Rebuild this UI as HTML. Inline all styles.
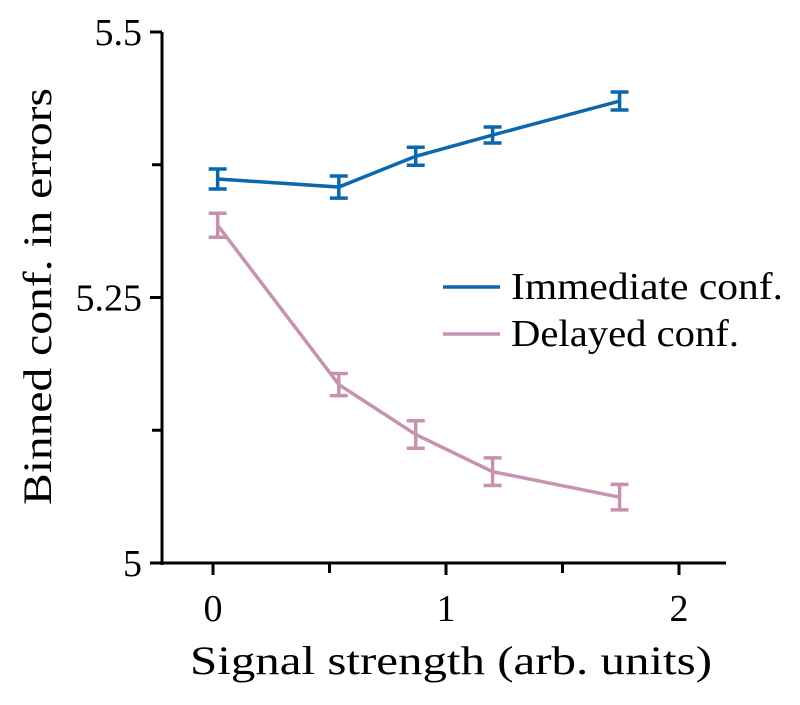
<!DOCTYPE html>
<html><head><meta charset="utf-8"><style>
body{margin:0;background:#fff}
svg text{font-family:"Liberation Serif",serif;fill:#000}
</style></head><body>
<svg id="chart" width="800" height="700" xmlns="http://www.w3.org/2000/svg"></svg>
<script>
const xTicks=[0,1,2];
const xMinorTicks=[0.5,1.5];
const yTicks=[5,5.25,5.5];
const yTickLabels=["5","5.25","5.5"];
const yMinorTicks=[5.125,5.375];
const xVals=[0.02,0.54,0.87,1.2,1.745];
const immediateVals=[5.3616,5.354,5.383,5.403,5.435];
const immediateErr=[0.0094,0.0104,0.0085,0.0075,0.0085];
const delayedVals=[5.318,5.168,5.121,5.086,5.062];
const delayedErr=[0.0113,0.0104,0.013,0.013,0.012];
const svg=document.getElementById('chart');
const NS='http://www.w3.org/2000/svg';
const X=v=>213+v*233;
const Y=v=>563-(v-5)*1062;
function mk(tag,attrs,parent){const e=document.createElementNS(NS,tag);for(const k in attrs)e.setAttribute(k,attrs[k]);(parent||svg).appendChild(e);return e;}
let a=mk('line',{x1:162,y1:32,x2:162,y2:565,stroke:'#000','stroke-width':3});


a=mk('line',{x1:160,y1:563,x2:726,y2:563,stroke:'#000','stroke-width':3});


xTicks.forEach(v=>{const t=mk('line',{x1:X(v),x2:X(v),y1:563,y2:575,stroke:'#000','stroke-width':3});


const l=mk('text',{x:X(v),y:621,'font-size':38,'text-anchor':'middle'});l.textContent=v;

});
xMinorTicks.forEach(v=>{const t=mk('line',{x1:X(v),x2:X(v),y1:563,y2:573,stroke:'#000','stroke-width':3});

});
yTicks.forEach((v,i)=>{const t=mk('line',{x1:150,x2:162,y1:Y(v),y2:Y(v),stroke:'#000','stroke-width':3});


const l=mk('text',{x:142,y:Y(v)+13,'font-size':38,'text-anchor':'end'});l.textContent=yTickLabels[i];

});
yMinorTicks.forEach(v=>{const t=mk('line',{x1:152,x2:162,y1:Y(v),y2:Y(v),stroke:'#000','stroke-width':3});

});
function series(vals,errs,color,name){
  const g=mk('g',{});
  
  
  const p=mk('polyline',{points:vals.map((v,i)=>X(xVals[i])+','+Y(v)).join(' '),fill:'none',stroke:color,'stroke-width':3.5},g);
  
  
  vals.forEach((v,i)=>{const x=X(xVals[i]),y1=Y(v+errs[i]),y2=Y(v-errs[i]);
    const e=mk('path',{d:`M${x},${y1}V${y2}M${x-9},${y1}H${x+9}M${x-9},${y2}H${x+9}`,stroke:color,'stroke-width':3.5,fill:'none'},g);
    
    });
}
series(delayedVals,delayedErr,'#c792b0','delayed');
series(immediateVals,immediateErr,'#0b68ad','immediate');
[['#0b68ad','Immediate conf.',287,272],['#c792b0','Delayed conf.',334,228]].forEach(([c,t,y,w])=>{
  const l=mk('line',{x1:443,x2:500,y1:y,y2:y,stroke:c,'stroke-width':3.5});
  
  
  const tx=mk('text',{x:511,y:y+12,'font-size':38,textLength:w,lengthAdjust:'spacingAndGlyphs'});tx.textContent=t;
  
  
});
let tt=mk('text',{x:190,y:674,'font-size':40,textLength:522,lengthAdjust:'spacingAndGlyphs'});tt.textContent='Signal strength (arb. units)';


tt=mk('text',{x:0,y:0,'font-size':40,textLength:417,lengthAdjust:'spacingAndGlyphs',transform:'translate(51,505) rotate(-90)'});tt.textContent='Binned conf. in errors';


</script>
</body></html>
